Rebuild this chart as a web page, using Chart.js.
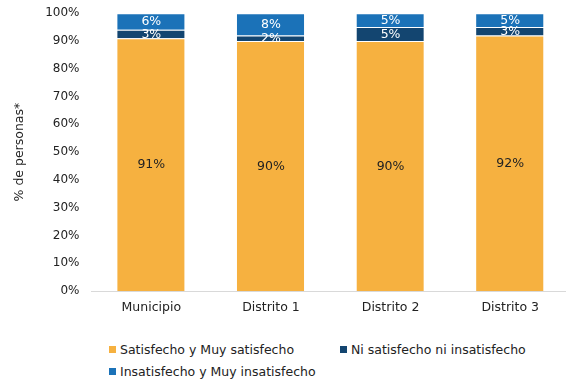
<!DOCTYPE html>
<html>
<head>
<meta charset="utf-8">
<script src="https://cdn.jsdelivr.net/npm/chart.js@4/dist/chart.umd.min.js"></script>
<style>
  html, body { margin: 0; padding: 0; background: #fff; overflow: hidden; }
  #wrap { position: relative; width: 566px; height: 379px; overflow: hidden; }
  #box { position: absolute; left: 0; top: -6px; width: 570px; height: 330px; }
  #legend {
    position: absolute; left: 109px; top: 341px;
    display: grid; grid-template-columns: 231px 231px; row-gap: 6px;
    font-family: "DejaVu Sans", sans-serif; font-size: 12.5px; color: #222;
  }
  .item { display: flex; align-items: center; height: 16px; white-space: nowrap; }
  .sw { width: 7px; height: 7px; margin-right: 4px; flex: none; }
</style>
</head>
<body>
<div id="wrap">
  <div id="box"><canvas id="c"></canvas></div>
  <div id="legend"></div>
</div>
<script>
// Survey satisfaction by area (% of people)
const categories = ["Municipio", "Distrito 1", "Distrito 2", "Distrito 3"];
const satisfechos = [91, 90, 90, 92];
const neutrales = [3, 2, 5, 3];
const insatisfechos = [6, 8, 5, 5];
const seriesNames = ["Satisfecho y Muy satisfecho", "Ni satisfecho ni insatisfecho", "Insatisfecho y Muy insatisfecho"];
const yTicks = [0, 10, 20, 30, 40, 50, 60, 70, 80, 90, 100];

const colors = ["#F6B140", "#134570", "#1B72B8"];
const labelColors = ["#222222", "#ffffff", "#ffffff"];
const FONT = "DejaVu Sans";

// Percent label in the middle of each stacked segment
const segmentLabels = {
  id: "segmentLabels",
  afterDatasetsDraw(chart) {
    const ctx = chart.ctx;
    ctx.save();
    ctx.textAlign = "center";
    ctx.textBaseline = "middle";
    ctx.font = "12.5px '" + FONT + "'";
    chart.data.datasets.forEach((ds, i) => {
      const meta = chart.getDatasetMeta(i);
      meta.data.forEach((bar, j) => {
        ctx.fillStyle = labelColors[i];
        ctx.fillText(ds.data[j] + "%", bar.x, (bar.y + bar.base) / 2 + 0.5);
      });
    });
    ctx.restore();
  }
};

const chart = new Chart(document.getElementById("c"), {
  type: "bar",
  data: {
    labels: categories,
    datasets: [satisfechos, neutrales, insatisfechos].map((d, i) => ({
      label: seriesNames[i],
      data: d,
      backgroundColor: colors[i],
      borderColor: "rgba(255,255,255,0.15)",
      borderWidth: { top: 1, left: 0, right: 1, bottom: 0 },
      borderSkipped: false,
      categoryPercentage: 1,
      barPercentage: 0.57
    }))
  },
  options: {
    responsive: true,
    maintainAspectRatio: false,
    animation: false,
    events: [],
    layout: { padding: { top: 0, left: 12, right: 0, bottom: 0 } },
    plugins: { legend: { display: false }, tooltip: { enabled: false } },
    scales: {
      x: {
        stacked: true,
        grid: { display: false, drawTicks: false },
        border: { display: true, color: "#d9d9d9", width: 1 },
        ticks: { color: "#222", padding: 9, font: { family: FONT, size: 12.5 } }
      },
      y: {
        stacked: true,
        min: 0,
        max: 100,
        afterBuildTicks(axis) { axis.ticks = yTicks.map(v => ({ value: v })); },
        afterFit(axis) { axis.width = 79.5; },
        grid: { display: false, drawTicks: false },
        border: { display: false },
        title: {
          display: true,
          text: "% de personas*",
          color: "#222",
          font: { family: FONT, size: 12.5 },
          padding: { top: 0, bottom: 0 }
        },
        ticks: {
          color: "#222",
          padding: 12,
          font: { family: FONT, size: 12 },
          callback: v => v + "%"
        }
      }
    }
  },
  plugins: [segmentLabels]
});

// HTML legend built from the datasets
const legend = document.getElementById("legend");
chart.data.datasets.forEach(ds => {
  const item = document.createElement("div");
  item.className = "item";
  const sw = document.createElement("span");
  sw.className = "sw";
  sw.style.background = ds.backgroundColor;
  const txt = document.createElement("span");
  txt.textContent = ds.label;
  item.appendChild(sw);
  item.appendChild(txt);
  legend.appendChild(item);
});
</script>
</body>
</html>
